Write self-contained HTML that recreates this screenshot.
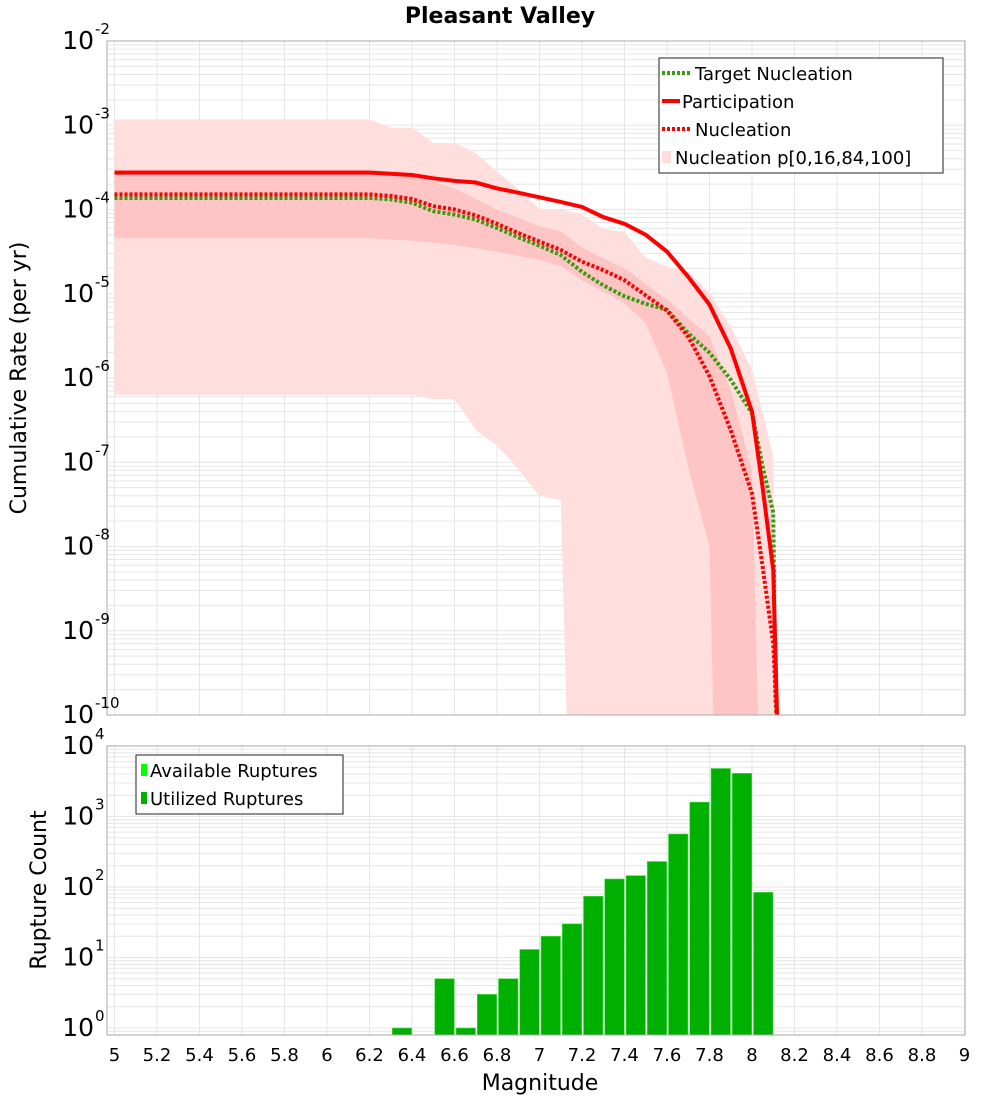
<!DOCTYPE html>
<html><head><meta charset="utf-8"><style>
body{margin:0;background:#fff;font-family:"Liberation Sans","DejaVu Sans",sans-serif}
svg text{font-family:"DejaVu Sans","Liberation Sans",sans-serif}
</style></head><body>
<svg id="c" width="1000" height="1100" xmlns="http://www.w3.org/2000/svg">
<defs>
<clipPath id="cp1"><rect x="107" y="41" width="858" height="674"/></clipPath>
<clipPath id="cp2"><rect x="107" y="746" width="858" height="289"/></clipPath>
</defs>
<text x="500" y="23" text-anchor="middle" font-size="22" font-weight="bold">Pleasant Valley</text>
<g id="grid1"></g>
<g id="grid2"></g>
<g id="bands" clip-path="url(#cp1)"></g>
<g id="lines" clip-path="url(#cp1)"></g>
<g id="bars" clip-path="url(#cp2)"></g>
<rect x="107" y="41" width="858" height="674" fill="none" stroke="#aaa"/>
<rect x="107" y="746" width="858" height="289" fill="none" stroke="#aaa"/>
<g id="axes"></g>
<text transform="translate(26,378) rotate(-90)" text-anchor="middle" font-size="22">Cumulative Rate (per yr)</text>
<text transform="translate(46,890) rotate(-90)" text-anchor="middle" font-size="22">Rupture Count</text>
<text x="540" y="1090" text-anchor="middle" font-size="22">Magnitude</text>
<g>
<rect x="659" y="58" width="284" height="115" fill="#fff" stroke="#222"/>
<line x1="662" y1="73" x2="690" y2="73" stroke="#3a9a10" stroke-width="4" stroke-dasharray="3,2"/>
<text x="695" y="80" font-size="18">Target Nucleation</text>
<line x1="662" y1="101" x2="680" y2="101" stroke="#f00" stroke-width="4"/>
<text x="682" y="108" font-size="18">Participation</text>
<line x1="662" y1="129" x2="690" y2="129" stroke="#f00" stroke-width="4" stroke-dasharray="3,2"/>
<text x="695" y="136" font-size="18">Nucleation</text>
<rect x="662" y="151" width="9" height="12" fill="#fdd"/>
<text x="675" y="164" font-size="18">Nucleation p[0,16,84,100]</text>
</g>
<g>
<rect x="136" y="755" width="207" height="59" fill="#fff" stroke="#222"/>
<rect x="141" y="764" width="6" height="12" fill="#00ff00"/>
<text x="150" y="777" font-size="18">Available Ruptures</text>
<rect x="141" y="792" width="6" height="12" fill="#00b000"/>
<text x="150" y="805" font-size="18">Utilized Ruptures</text>
</g>
</svg>
<script>
const partM=[5.0,6.2,6.3,6.4,6.5,6.6,6.7,6.8,6.9,7.0,7.1,7.2,7.3,7.4,7.5,7.6,7.7,7.8,7.9,8.0,8.05,8.1,8.12];
const partLog=[-3.563,-3.563,-3.575,-3.59,-3.63,-3.66,-3.68,-3.75,-3.80,-3.855,-3.91,-3.97,-4.09,-4.17,-4.30,-4.50,-4.80,-5.13,-5.65,-6.40,-7.3,-8.28,-10.2];
const nuclM=[5.0,6.2,6.3,6.4,6.5,6.6,6.7,6.8,6.9,7.0,7.1,7.2,7.3,7.4,7.5,7.6,7.7,7.8,7.9,8.0,8.05,8.1,8.12];
const nuclLog=[-3.82,-3.82,-3.84,-3.875,-3.96,-4.0,-4.07,-4.17,-4.28,-4.38,-4.48,-4.62,-4.72,-4.84,-5.02,-5.2,-5.51,-5.98,-6.62,-7.37,-8.24,-9.15,-10.2];
const targM=[5.0,6.2,6.3,6.4,6.5,6.6,6.7,6.8,6.9,7.0,7.1,7.2,7.3,7.4,7.5,7.6,7.7,7.8,7.9,8.0,8.05,8.1,8.11,8.12];
const targLog=[-3.863,-3.863,-3.88,-3.92,-4.02,-4.06,-4.12,-4.22,-4.33,-4.43,-4.54,-4.74,-4.90,-5.03,-5.12,-5.19,-5.47,-5.70,-6.02,-6.42,-7.05,-7.6,-9.8,-10.2];
const maxM=[5.0,6.2,6.3,6.4,6.5,6.6,6.7,6.8,6.9,7.0,7.1,7.2,7.3,7.4,7.5,7.6,7.7,7.8,7.9,8.0,8.1,8.12];
const maxLog=[-2.93,-2.93,-3.03,-3.03,-3.21,-3.21,-3.33,-3.55,-3.76,-3.99,-4.0,-4.06,-4.23,-4.27,-4.57,-4.68,-4.74,-4.99,-5.39,-5.9,-6.93,-10.2];
const minM=[5.0,6.2,6.4,6.5,6.6,6.7,6.8,6.9,7.0,7.1,7.13];
const minLog=[-6.2,-6.2,-6.2,-6.25,-6.25,-6.62,-6.8,-7.08,-7.4,-7.45,-10.2];
const p84M=[5.0,6.2,6.4,6.6,6.8,7.0,7.1,7.2,7.3,7.4,7.6,7.8,7.9,8.0,8.03];
const p84Log=[-3.53,-3.53,-3.59,-3.75,-4.0,-4.2,-4.26,-4.45,-4.58,-4.70,-5.07,-5.51,-6.14,-7.1,-10.2];
const p16M=[5.0,6.2,6.4,6.6,6.8,7.0,7.1,7.2,7.4,7.5,7.6,7.7,7.8,7.82];
const p16Log=[-4.34,-4.34,-4.37,-4.42,-4.5,-4.6,-4.67,-4.84,-5.11,-5.35,-5.94,-7.06,-8.0,-10.2];
const binM=[6.3,6.5,6.6,6.7,6.8,6.9,7.0,7.1,7.2,7.3,7.4,7.5,7.6,7.7,7.8,7.9,8.0];
const binCount=[1,5,1,3,5,13,20,30,74,130,145,230,565,1600,4800,4100,84];
const xTicks=["5","5.2","5.4","5.6","5.8","6","6.2","6.4","6.6","6.8","7","7.2","7.4","7.6","7.8","8","8.2","8.4","8.6","8.8","9"];
const yTopExp=["-2","-3","-4","-5","-6","-7","-8","-9","-10"];
const yBotExp=["4","3","2","1","0"];

const NS="http://www.w3.org/2000/svg";
const X=m=>114.5+(m-5)*212.5;
const YT=l=>41+(-2-l)*84.25;
const YB=l=>1028-l*70.5;
function mk(tag,attrs,parent){const e=document.createElementNS(NS,tag);for(const k in attrs)e.setAttribute(k,attrs[k]);parent.appendChild(e);return e;}
const g1=document.getElementById('grid1'),g2=document.getElementById('grid2');
// vertical grid
for(let i=0;i<=20;i++){const x=X(5+i*0.2);
 if(x<107)continue;
 const a=mk('line',{x1:x,x2:x,y1:41,y2:715,stroke:'#e6e6e6'},g1);
 
 
 const b=mk('line',{x1:x,x2:x,y1:746,y2:1035,stroke:'#e6e6e6'},g2);
 
 }
for(let d=-10;d<-2;d++){for(let k=1;k<10;k++){const y=YT(d+Math.log10(k));
 const l=mk('line',{x1:107,x2:965,y1:y,y2:y,stroke:'#e6e6e6'},g1);
 
 }}
for(let d=-1;d<4;d++){for(let k=1;k<10;k++){const v=d+Math.log10(k);const y=YB(v);if(y>1035||y<746)continue;
 const l=mk('line',{x1:107,x2:965,y1:y,y2:y,stroke:'#e6e6e6'},g2);
 
 }}
// bands
const bg=document.getElementById('bands');
function band(uM,uL,lM,lL,fill,name){
 let pts=uM.map((m,i)=>X(m)+','+YT(uL[i]));
 for(let i=lM.length-1;i>=0;i--)pts.push(X(lM[i])+','+YT(lL[i]));
 const p=mk('polygon',{points:pts.join(' '),fill:fill},bg);
 
 }
band(maxM,maxLog,minM,minLog,'#ffdede','band-min-max');
band(p84M,p84Log,p16M,p16Log,'#ffc4c4','band-16-84');
// lines
const lg=document.getElementById('lines');
function line(ms,ls,color,dash,name){
 const p=mk('polyline',{points:ms.map((m,i)=>X(m)+','+YT(ls[i])).join(' '),fill:'none',stroke:color,'stroke-width':4},lg);
 if(dash)p.setAttribute('stroke-dasharray','3,2');
 
 }
line(targM,targLog,'#3a9a10',true,'target-nucleation-line');
line(partM,partLog,'#ff0000',false,'participation-line');
line(nuclM,nuclLog,'#ff0000',true,'nucleation-line');
// bars
const brg=document.getElementById('bars');
binM.forEach((m,i)=>{const y=YB(Math.log10(binCount[i]));
 const r=mk('rect',{x:X(m)+1.5,y:y,width:19.5,height:1035-y,fill:'#00b000',stroke:'#55dd55','stroke-width':0.6},brg);
 
 });
// axis labels
const ax=document.getElementById('axes');
xTicks.forEach(t=>{const x=X(parseFloat(t));
 const e=mk('text',{x:x,y:1061,'text-anchor':'middle','font-size':18},ax);e.textContent=t;
 
 });
function ylab(y,exp,name){
 const e=mk('text',{x:94,y:y+8,'text-anchor':'end','font-size':25},ax);
 e.textContent='10';
 
 
 const s=mk('text',{x:95,y:y-7,'text-anchor':'start','font-size':15},ax);
 s.textContent=exp;
 
 }
yTopExp.forEach(e=>ylab(YT(parseFloat(e)),e,'y-tick-label-top'));
yBotExp.forEach(e=>ylab(YB(parseFloat(e)),e,'y-tick-label-bottom'));
</script>
</body></html>
